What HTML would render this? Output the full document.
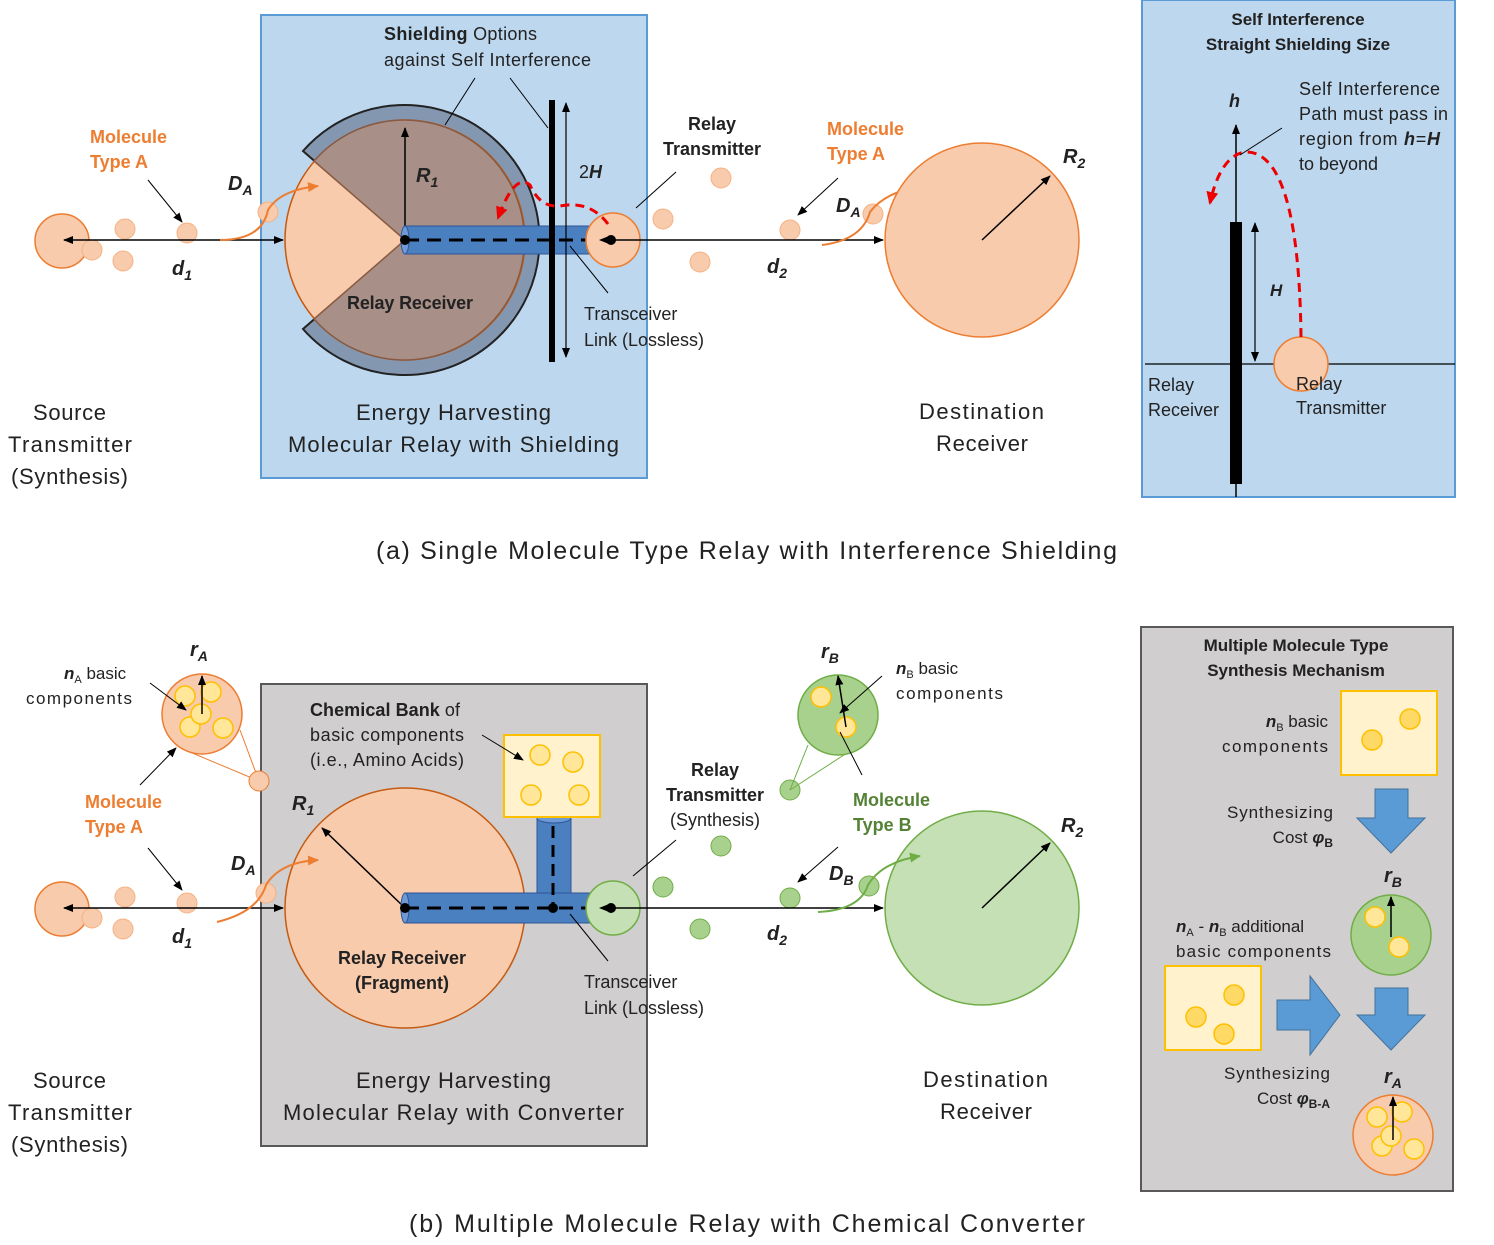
<!DOCTYPE html>
<html><head><meta charset="utf-8"><style>
html,body{margin:0;padding:0;background:#fff}
svg{display:block}
text{font-family:"Liberation Sans",sans-serif;fill:#222}
.b{font-weight:bold}
.o{fill:#ed7d31}
.g{fill:#548235}
.it{font-style:italic;font-weight:bold}
</style></head><body>
<svg width="1494" height="1245" viewBox="0 0 1494 1245" xmlns="http://www.w3.org/2000/svg">
<defs>
<marker id="ar" markerWidth="10" markerHeight="10" refX="9" refY="5" orient="auto-start-reverse" markerUnits="userSpaceOnUse"><path d="M0,1 L10,5 L0,9 Z" fill="#000"/></marker>
<marker id="ao" markerWidth="12" markerHeight="12" refX="10" refY="6" orient="auto" markerUnits="userSpaceOnUse"><path d="M0,1 L11,6 L0,11 Z" fill="#ed7d31"/></marker>
<marker id="ag" markerWidth="12" markerHeight="12" refX="10" refY="6" orient="auto" markerUnits="userSpaceOnUse"><path d="M0,1 L11,6 L0,11 Z" fill="#70ad47"/></marker>
<marker id="ared" markerWidth="14" markerHeight="14" refX="11" refY="7" orient="auto" markerUnits="userSpaceOnUse"><path d="M0,1 L13,7 L0,13 Z" fill="#e00"/></marker>
</defs>

<!-- ============ (a) ============ -->
<rect x="261" y="15" width="386" height="463" fill="#bdd7ee" stroke="#5b9bd5" stroke-width="2"/>
<circle cx="62" cy="241" r="27" fill="#f8cbad" stroke="#ed7d31" stroke-width="1.5"/>
<g fill="#f8cbad" stroke="#f4b183" stroke-width="1">
<circle cx="92" cy="250" r="10"/><circle cx="125" cy="229" r="10"/><circle cx="123" cy="261" r="10"/><circle cx="187" cy="233" r="10"/><circle cx="268" cy="212" r="10"/>
</g>
<line x1="64" y1="240" x2="283" y2="240" stroke="#000" stroke-width="1.5" marker-start="url(#ar)" marker-end="url(#ar)"/>
<path d="M405,240 L303,151 A135,135 0 1 1 303,329 Z" fill="#8497b0" stroke="#222" stroke-width="2"/>
<circle cx="405" cy="240" r="120" fill="#f8cbad" stroke="#c55a11" stroke-width="1.5"/>
<path d="M405,240 L314,161 A120,120 0 1 1 314,319 Z" fill="#a88f88" stroke="#8a5a40" stroke-width="1.5"/>
<line x1="405" y1="240" x2="405" y2="128" stroke="#000" stroke-width="1.5" marker-end="url(#ar)"/>
<text x="416" y="182" class="it" font-size="20">R<tspan font-size="14" dy="5">1</tspan></text>
<rect x="405" y="226" width="185" height="28" fill="#4a7fc0" stroke="#2f5597"/>
<ellipse cx="405" cy="240" rx="4" ry="14" fill="#6d9ad4" stroke="#2f5597"/>
<line x1="405" y1="240" x2="611" y2="240" stroke="#000" stroke-width="3" stroke-dasharray="14,8"/>
<circle cx="405" cy="240" r="5" fill="#000"/>
<rect x="549" y="100" width="6" height="262" fill="#000"/>
<line x1="566" y1="103" x2="566" y2="357" stroke="#000" stroke-width="1.2" marker-start="url(#ar)" marker-end="url(#ar)"/>
<text x="579" y="178" font-size="18">2<tspan font-style="italic" font-weight="bold">H</tspan></text>
<circle cx="613" cy="240" r="27" fill="#f8cbad" stroke="#ed7d31" stroke-width="1.5"/>
<circle cx="611" cy="240" r="5" fill="#000"/>
<line x1="611" y1="240" x2="600" y2="240" stroke="#000" marker-end="url(#ar)"/>
<path d="M608,224 Q590,200 560,206 Q540,208 530,185 Q515,172 498,218" fill="none" stroke="#e00" stroke-width="3" stroke-dasharray="9,6" marker-end="url(#ared)"/>
<text x="384" y="40" font-size="18" textLength="153"><tspan class="b">Shielding</tspan> Options</text>
<text x="384" y="66" font-size="18" textLength="207">against Self Interference</text>
<line x1="475" y1="78" x2="445" y2="125" stroke="#000"/>
<line x1="510" y1="78" x2="548" y2="128" stroke="#000"/>
<text x="347" y="309" font-size="18" class="b" textLength="126">Relay Receiver</text>
<text x="584" y="320" font-size="18">Transceiver</text>
<text x="584" y="346" font-size="18">Link (Lossless)</text>
<line x1="608" y1="293" x2="570" y2="246" stroke="#000"/>
<text x="712" y="130" font-size="18" class="b" text-anchor="middle">Relay</text>
<text x="712" y="155" font-size="18" class="b" text-anchor="middle">Transmitter</text>
<line x1="676" y1="172" x2="636" y2="208" stroke="#000"/>
<g fill="#f8cbad" stroke="#f4b183">
<circle cx="663" cy="219" r="10"/><circle cx="721" cy="178" r="10"/><circle cx="700" cy="262" r="10"/><circle cx="790" cy="230" r="10"/><circle cx="873" cy="214" r="10"/>
</g>
<line x1="612" y1="240" x2="883" y2="240" stroke="#000" stroke-width="1.5" marker-end="url(#ar)"/>
<text x="827" y="135" font-size="18" class="b o">Molecule</text>
<text x="827" y="160" font-size="18" class="b o">Type A</text>
<line x1="838" y1="178" x2="798" y2="215" stroke="#000" marker-end="url(#ar)"/>
<text x="90" y="143" font-size="18" class="b o">Molecule</text>
<text x="90" y="168" font-size="18" class="b o">Type A</text>
<line x1="148" y1="180" x2="182" y2="222" stroke="#000" marker-end="url(#ar)"/>
<text x="228" y="190" class="it" font-size="20">D<tspan font-size="14" dy="5">A</tspan></text>
<path d="M220,240 Q262,240 268,210 Q280,190 318,186" fill="none" stroke="#ed7d31" stroke-width="2" marker-end="url(#ao)"/>
<text x="836" y="212" class="it" font-size="20">D<tspan font-size="14" dy="5">A</tspan></text>
<path d="M822,245 Q862,240 870,212 Q885,192 922,186" fill="none" stroke="#ed7d31" stroke-width="2" marker-end="url(#ao)"/>
<text x="172" y="275" class="it" font-size="20">d<tspan font-size="14" dy="5">1</tspan></text>
<text x="767" y="273" class="it" font-size="20">d<tspan font-size="14" dy="5">2</tspan></text>
<circle cx="982" cy="240" r="97" fill="#f8cbad" stroke="#ed7d31" stroke-width="1.5"/>
<line x1="982" y1="240" x2="1050" y2="176" stroke="#000" stroke-width="1.5" marker-end="url(#ar)"/>
<text x="1063" y="163" class="it" font-size="20">R<tspan font-size="14" dy="5">2</tspan></text>
<text x="356" y="420" font-size="22" textLength="195">Energy Harvesting</text>
<text x="288" y="452" font-size="22" textLength="331">Molecular Relay with Shielding</text>
<text x="33" y="420" font-size="22" textLength="73">Source</text>
<text x="8" y="452" font-size="22" textLength="124">Transmitter</text>
<text x="11" y="484" font-size="22" textLength="117">(Synthesis)</text>
<text x="919" y="419" font-size="22" textLength="125">Destination</text>
<text x="936" y="451" font-size="22" textLength="92">Receiver</text>
<text x="376" y="559" font-size="25" textLength="741">(a) Single Molecule Type Relay with Interference Shielding</text>
<rect x="1142" y="0" width="313" height="497" fill="#bdd7ee" stroke="#5b9bd5" stroke-width="2"/>
<text x="1298" y="25" font-size="17" class="b" text-anchor="middle">Self Interference</text>
<text x="1298" y="50" font-size="17" class="b" text-anchor="middle">Straight Shielding Size</text>
<line x1="1145" y1="364" x2="1455" y2="364" stroke="#000" stroke-width="1.2"/>
<line x1="1236" y1="497" x2="1236" y2="125" stroke="#000" stroke-width="1.5" marker-end="url(#ar)"/>
<rect x="1230" y="222" width="12" height="262" fill="#000"/>
<text x="1229" y="107" class="it" font-size="18">h</text>
<line x1="1255" y1="223" x2="1255" y2="361" stroke="#000" stroke-width="1.2" marker-start="url(#ar)" marker-end="url(#ar)"/>
<text x="1270" y="296" class="it" font-size="17">H</text>
<circle cx="1301" cy="364" r="27" fill="#f8cbad" stroke="#ed7d31" stroke-width="1.5"/>
<path d="M1301,337 C1300,250 1290,150 1245,152 C1225,155 1215,180 1210,203" fill="none" stroke="#e00" stroke-width="3" stroke-dasharray="9,6" marker-end="url(#ared)"/>
<text x="1299" y="95" font-size="18" textLength="141">Self Interference</text>
<text x="1299" y="120" font-size="18" textLength="149">Path must pass in</text>
<text x="1299" y="145" font-size="18" textLength="141">region from <tspan class="it">h</tspan>=<tspan class="it">H</tspan></text>
<text x="1299" y="170" font-size="18">to beyond</text>
<line x1="1282" y1="128" x2="1240" y2="155" stroke="#000"/>
<text x="1148" y="391" font-size="18">Relay</text>
<text x="1148" y="416" font-size="18">Receiver</text>
<text x="1296" y="390" font-size="18">Relay</text>
<text x="1296" y="414" font-size="18">Transmitter</text>

<!-- ============ (b) ============ -->
<rect x="261" y="684" width="386" height="462" fill="#d0cece" stroke="#595959" stroke-width="2"/>
<circle cx="62" cy="909" r="27" fill="#f8cbad" stroke="#ed7d31" stroke-width="1.5"/>
<g fill="#f8cbad" stroke="#f4b183">
<circle cx="92" cy="918" r="10"/><circle cx="125" cy="897" r="10"/><circle cx="123" cy="929" r="10"/><circle cx="187" cy="903" r="10"/><circle cx="266" cy="893" r="10"/>
</g>
<line x1="64" y1="908" x2="283" y2="908" stroke="#000" stroke-width="1.5" marker-start="url(#ar)" marker-end="url(#ar)"/>
<circle cx="405" cy="908" r="120" fill="#f8cbad" stroke="#c55a11" stroke-width="1.5"/>
<line x1="405" y1="908" x2="322" y2="828" stroke="#000" stroke-width="1.5" marker-end="url(#ar)"/>
<text x="292" y="810" class="it" font-size="20">R<tspan font-size="14" dy="5">1</tspan></text>
<text x="402" y="964" font-size="18" class="b" text-anchor="middle">Relay Receiver</text>
<text x="402" y="989" font-size="18" class="b" text-anchor="middle">(Fragment)</text>
<rect x="537" y="818" width="34" height="80" fill="#4a7fc0" stroke="#2f5597"/>
<ellipse cx="554" cy="818" rx="17" ry="5" fill="#6d9ad4" stroke="#2f5597"/>
<rect x="405" y="893" width="185" height="30" fill="#4a7fc0" stroke="#2f5597"/>
<ellipse cx="405" cy="908" rx="4" ry="15" fill="#6d9ad4" stroke="#2f5597"/>
<line x1="553" y1="826" x2="553" y2="908" stroke="#000" stroke-width="3" stroke-dasharray="12,7"/>
<line x1="405" y1="908" x2="611" y2="908" stroke="#000" stroke-width="3" stroke-dasharray="14,8"/>
<circle cx="405" cy="908" r="5" fill="#000"/><circle cx="553" cy="908" r="5" fill="#000"/>
<rect x="504" y="735" width="96" height="82" fill="#fff2cc" stroke="#ffc000" stroke-width="2"/>
<g fill="#ffe699" stroke="#ffc000" stroke-width="1.5">
<circle cx="540" cy="755" r="10"/><circle cx="573" cy="762" r="10"/><circle cx="531" cy="795" r="10"/><circle cx="579" cy="795" r="10"/>
</g>
<text x="310" y="716" font-size="18" textLength="150"><tspan class="b">Chemical Bank</tspan> of</text>
<text x="310" y="741" font-size="18" textLength="154">basic components</text>
<text x="310" y="766" font-size="18" textLength="154">(i.e., Amino Acids)</text>
<line x1="482" y1="735" x2="523" y2="760" stroke="#000" marker-end="url(#ar)"/>
<circle cx="613" cy="908" r="27" fill="#c5e0b4" stroke="#70ad47" stroke-width="1.5"/>
<circle cx="611" cy="908" r="5" fill="#000"/>
<line x1="611" y1="908" x2="600" y2="908" stroke="#000" marker-end="url(#ar)"/>
<text x="584" y="988" font-size="18">Transceiver</text>
<text x="584" y="1014" font-size="18">Link (Lossless)</text>
<line x1="608" y1="961" x2="570" y2="914" stroke="#000"/>
<text x="715" y="776" font-size="18" class="b" text-anchor="middle">Relay</text>
<text x="715" y="801" font-size="18" class="b" text-anchor="middle">Transmitter</text>
<text x="715" y="826" font-size="18" text-anchor="middle">(Synthesis)</text>
<line x1="676" y1="840" x2="633" y2="876" stroke="#000"/>
<g fill="#a9d18e" stroke="#70ad47">
<circle cx="663" cy="887" r="10"/><circle cx="721" cy="846" r="10"/><circle cx="700" cy="929" r="10"/><circle cx="790" cy="898" r="10"/><circle cx="869" cy="886" r="10"/><circle cx="790" cy="790" r="10"/>
</g>
<line x1="612" y1="908" x2="883" y2="908" stroke="#000" stroke-width="1.5" marker-end="url(#ar)"/>
<circle cx="982" cy="908" r="97" fill="#c5e0b4" stroke="#70ad47" stroke-width="1.5"/>
<line x1="982" y1="908" x2="1050" y2="843" stroke="#000" stroke-width="1.5" marker-end="url(#ar)"/>
<text x="1061" y="832" class="it" font-size="20">R<tspan font-size="14" dy="5">2</tspan></text>
<text x="853" y="806" font-size="18" class="b g">Molecule</text>
<text x="853" y="831" font-size="18" class="b g">Type B</text>
<line x1="838" y1="847" x2="798" y2="882" stroke="#000" marker-end="url(#ar)"/>
<text x="829" y="880" class="it" font-size="20">D<tspan font-size="14" dy="5">B</tspan></text>
<path d="M818,912 Q860,910 868,885 Q882,862 920,856" fill="none" stroke="#70ad47" stroke-width="2" marker-end="url(#ag)"/>
<text x="231" y="870" class="it" font-size="20">D<tspan font-size="14" dy="5">A</tspan></text>
<path d="M217,922 Q258,912 266,885 Q280,862 318,860" fill="none" stroke="#ed7d31" stroke-width="2" marker-end="url(#ao)"/>
<text x="172" y="943" class="it" font-size="20">d<tspan font-size="14" dy="5">1</tspan></text>
<text x="767" y="940" class="it" font-size="20">d<tspan font-size="14" dy="5">2</tspan></text>
<text x="85" y="808" font-size="18" class="b o">Molecule</text>
<text x="85" y="833" font-size="18" class="b o">Type A</text>
<line x1="148" y1="848" x2="182" y2="890" stroke="#000" marker-end="url(#ar)"/>
<line x1="185" y1="750" x2="259" y2="781" stroke="#ed7d31"/>
<line x1="240" y1="730" x2="259" y2="781" stroke="#ed7d31"/>
<circle cx="259" cy="781" r="10" fill="#f8cbad" stroke="#ed7d31"/>
<circle cx="202" cy="714" r="40" fill="#f8cbad" stroke="#ed7d31" stroke-width="1.5"/>
<g fill="#ffe699" stroke="#ffc000" stroke-width="1.5">
<circle cx="185" cy="696" r="10"/><circle cx="211" cy="692" r="10"/><circle cx="190" cy="727" r="10"/><circle cx="223" cy="728" r="10"/><circle cx="201" cy="714" r="10"/>
</g>
<line x1="202" y1="714" x2="202" y2="676" stroke="#000" stroke-width="1.5" marker-end="url(#ar)"/>
<text x="190" y="656" class="it" font-size="20">r<tspan font-size="14" dy="5">A</tspan></text>
<text x="64" y="679" font-size="17"><tspan class="it">n</tspan><tspan font-size="11" dy="4">A</tspan><tspan dy="-4"> basic</tspan></text>
<text x="26" y="704" font-size="17" textLength="106">components</text>
<line x1="150" y1="683" x2="186" y2="710" stroke="#000" marker-end="url(#ar)"/>
<line x1="140" y1="785" x2="176" y2="748" stroke="#000" marker-end="url(#ar)"/>
<line x1="790" y1="790" x2="808" y2="745" stroke="#70ad47"/>
<line x1="790" y1="790" x2="870" y2="738" stroke="#70ad47"/>
<circle cx="838" cy="715" r="40" fill="#a9d18e" stroke="#70ad47" stroke-width="1.5"/>
<g fill="#ffe699" stroke="#ffc000" stroke-width="1.5">
<circle cx="821" cy="697" r="10"/><circle cx="846" cy="727" r="10"/>
</g>
<line x1="846" y1="727" x2="838" y2="676" stroke="#000" stroke-width="1.5" marker-end="url(#ar)"/>
<text x="821" y="658" class="it" font-size="20">r<tspan font-size="14" dy="5">B</tspan></text>
<text x="896" y="674" font-size="17"><tspan class="it">n</tspan><tspan font-size="11" dy="4">B</tspan><tspan dy="-4"> basic</tspan></text>
<text x="896" y="699" font-size="17" textLength="107">components</text>
<line x1="882" y1="676" x2="840" y2="713" stroke="#000" marker-end="url(#ar)"/>
<line x1="862" y1="775" x2="840" y2="732" stroke="#000"/>
<text x="356" y="1088" font-size="22" textLength="195">Energy Harvesting</text>
<text x="283" y="1120" font-size="22" textLength="341">Molecular Relay with Converter</text>
<text x="33" y="1088" font-size="22" textLength="73">Source</text>
<text x="8" y="1120" font-size="22" textLength="124">Transmitter</text>
<text x="11" y="1152" font-size="22" textLength="117">(Synthesis)</text>
<text x="923" y="1087" font-size="22" textLength="125">Destination</text>
<text x="940" y="1119" font-size="22" textLength="92">Receiver</text>
<text x="409" y="1232" font-size="25" textLength="676">(b) Multiple Molecule Relay with Chemical Converter</text>
<rect x="1141" y="627" width="312" height="564" fill="#d0cece" stroke="#595959" stroke-width="2"/>
<text x="1296" y="651" font-size="17" class="b" text-anchor="middle">Multiple Molecule Type</text>
<text x="1296" y="676" font-size="17" class="b" text-anchor="middle">Synthesis Mechanism</text>
<rect x="1341" y="691" width="96" height="84" fill="#fff2cc" stroke="#ffc000" stroke-width="2"/>
<rect x="1165" y="966" width="96" height="84" fill="#fff2cc" stroke="#ffc000" stroke-width="2"/>
<g fill="#ffd966" stroke="#ffc000" stroke-width="1.5">
<circle cx="1410" cy="719" r="10"/><circle cx="1372" cy="740" r="10"/>
<circle cx="1234" cy="995" r="10"/><circle cx="1196" cy="1017" r="10"/><circle cx="1224" cy="1034" r="10"/>
</g>
<text x="1328" y="727" font-size="17" text-anchor="end"><tspan class="it">n</tspan><tspan font-size="11" dy="4">B</tspan><tspan dy="-4"> basic</tspan></text>
<text x="1328" y="752" font-size="17" text-anchor="end" textLength="106">components</text>
<g fill="#5b9bd5" stroke="#41719c">
<path d="M1375,789 H1408 V818 H1425 L1391,853 L1357,818 H1375 Z"/>
<path d="M1375,988 H1408 V1015 H1425 L1391,1050 L1357,1015 H1375 Z"/>
<path d="M1277,1000 V1030 H1310 V1055 L1340,1015 L1310,976 V1000 Z"/>
</g>
<text x="1333" y="818" font-size="17" text-anchor="end" textLength="106">Synthesizing</text>
<text x="1333" y="843" font-size="17" text-anchor="end">Cost <tspan class="it">φ</tspan><tspan class="b" font-size="12" dy="4">B</tspan></text>
<text x="1384" y="882" class="it" font-size="20">r<tspan font-size="14" dy="5">B</tspan></text>
<circle cx="1391" cy="935" r="40" fill="#a9d18e" stroke="#70ad47" stroke-width="1.5"/>
<g fill="#ffe699" stroke="#ffc000" stroke-width="1.5">
<circle cx="1375" cy="917" r="10"/><circle cx="1399" cy="947" r="10"/>
</g>
<line x1="1391" y1="937" x2="1391" y2="897" stroke="#000" stroke-width="1.5" marker-end="url(#ar)"/>
<text x="1176" y="932" font-size="17"><tspan class="it">n</tspan><tspan font-size="11" dy="4">A</tspan><tspan dy="-4"> - </tspan><tspan class="it">n</tspan><tspan font-size="11" dy="4">B</tspan><tspan dy="-4"> additional</tspan></text>
<text x="1176" y="957" font-size="17" textLength="155">basic components</text>
<text x="1330" y="1079" font-size="17" text-anchor="end" textLength="106">Synthesizing</text>
<text x="1330" y="1104" font-size="17" text-anchor="end">Cost <tspan class="it">φ</tspan><tspan class="b" font-size="12" dy="4">B-A</tspan></text>
<text x="1384" y="1083" class="it" font-size="20">r<tspan font-size="14" dy="5">A</tspan></text>
<circle cx="1393" cy="1135" r="40" fill="#f8cbad" stroke="#ed7d31" stroke-width="1.5"/>
<g fill="#ffe699" stroke="#ffc000" stroke-width="1.5">
<circle cx="1377" cy="1117" r="10"/><circle cx="1402" cy="1112" r="10"/><circle cx="1382" cy="1146" r="10"/><circle cx="1414" cy="1149" r="10"/><circle cx="1391" cy="1136" r="10"/>
</g>
<line x1="1393" y1="1140" x2="1393" y2="1097" stroke="#000" stroke-width="1.5" marker-end="url(#ar)"/>
</svg>
</body></html>
